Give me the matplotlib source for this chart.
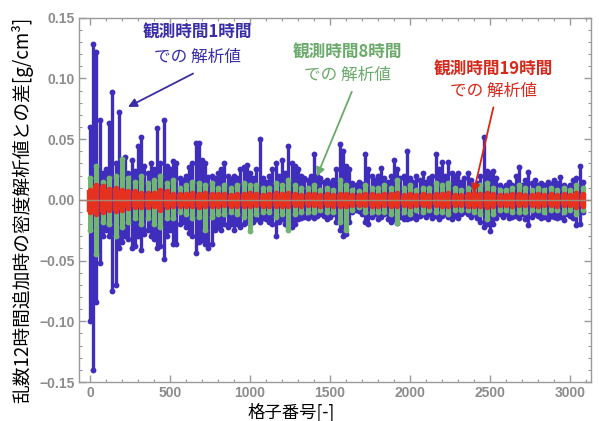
import numpy as np
import matplotlib
matplotlib.use("Agg")
import matplotlib.pyplot as plt
from matplotlib.ticker import MultipleLocator, FixedLocator

plt.rcParams['font.family'] = ['Noto Sans CJK JP', 'DejaVu Sans']

# ---- data (envelopes) ----
blue_step = 20
blue_up = [
    0.060, 0.128, 0.122, 0.066, 0.022, 0.025, 0.063, 0.089, 0.030, 0.072,   # 0-180
    0.030, 0.035, 0.022, 0.033, 0.024, 0.044, 0.052, 0.028, 0.022, 0.030,   # 200-380
    0.025, 0.059, 0.030, 0.066, 0.028, 0.025, 0.032, 0.030, 0.018, 0.016,   # 400-580
    0.020, 0.027, 0.030, 0.047, 0.047, 0.033, 0.030, 0.019, 0.020, 0.018,   # 600-780
    0.022, 0.025, 0.030, 0.020, 0.017, 0.020, 0.018, 0.025, 0.027, 0.029,   # 800-980
    0.022, 0.018, 0.025, 0.050, 0.018, 0.015, 0.020, 0.025, 0.030, 0.020,   # 1000-1180
    0.033, 0.022, 0.044, 0.030, 0.028, 0.025, 0.020, 0.018, 0.016, 0.020,   # 1200-1380
    0.038, 0.020, 0.018, 0.015, 0.016, 0.014, 0.016, 0.025, 0.046, 0.040,   # 1400-1580
    0.028, 0.025, 0.014, 0.012, 0.015, 0.013, 0.038, 0.025, 0.020, 0.016,   # 1600-1780
    0.020, 0.026, 0.018, 0.015, 0.020, 0.033, 0.025, 0.018, 0.020, 0.040,   # 1800-1980
    0.018, 0.015, 0.020, 0.016, 0.022, 0.015, 0.018, 0.020, 0.038, 0.025,   # 2000-2180
    0.031, 0.020, 0.031, 0.022, 0.020, 0.022, 0.015, 0.018, 0.022, 0.016,   # 2200-2380
    0.012, 0.014, 0.020, 0.052, 0.024, 0.022, 0.024, 0.018, 0.012, 0.010,   # 2400-2580
    0.012, 0.015, 0.012, 0.020, 0.027, 0.012, 0.016, 0.023, 0.014, 0.016,   # 2600-2780
    0.012, 0.014, 0.012, 0.015, 0.013, 0.016, 0.014, 0.019, 0.012, 0.010,   # 2800-2980
    0.012, 0.016, 0.018, 0.028, 0.015,                                      # 3000-3080
]
blue_down = [
    -0.100, -0.140, -0.084, -0.052, -0.030, -0.025, -0.030, -0.075, -0.070, -0.040,
    -0.035, -0.030, -0.032, -0.040, -0.038, -0.030, -0.041, -0.028, -0.025, -0.030,
    -0.032, -0.040, -0.038, -0.049, -0.030, -0.025, -0.036, -0.036, -0.020, -0.018,
    -0.022, -0.027, -0.030, -0.044, -0.035, -0.033, -0.036, -0.040, -0.036, -0.025,
    -0.022, -0.025, -0.020, -0.022, -0.020, -0.025, -0.020, -0.022, -0.020, -0.018,
    -0.020, -0.018, -0.016, -0.018, -0.015, -0.016, -0.018, -0.020, -0.030, -0.018,
    -0.016, -0.020, -0.022, -0.022, -0.020, -0.016, -0.015, -0.014, -0.015, -0.013,
    -0.015, -0.013, -0.012, -0.013, -0.016, -0.014, -0.012, -0.018, -0.025, -0.030,
    -0.028, -0.018, -0.010, -0.008, -0.009, -0.012, -0.018, -0.020, -0.014, -0.012,
    -0.016, -0.014, -0.012, -0.016, -0.018, -0.016, -0.019, -0.014, -0.016, -0.016,
    -0.015, -0.014, -0.016, -0.013, -0.012, -0.014, -0.012, -0.015, -0.013, -0.016,
    -0.013, -0.012, -0.014, -0.016, -0.013, -0.015, -0.012, -0.010, -0.012, -0.014,
    -0.012, -0.015, -0.018, -0.022, -0.020, -0.026, -0.020, -0.015, -0.012, -0.014,
    -0.012, -0.015, -0.014, -0.013, -0.015, -0.012, -0.016, -0.021, -0.014, -0.012,
    -0.013, -0.015, -0.014, -0.016, -0.013, -0.014, -0.015, -0.014, -0.017, -0.012,
    -0.013, -0.015, -0.021, -0.020, -0.010,
]

gr_step = 40
green_up = [
    0.018, 0.028, 0.015, 0.018, 0.020, 0.034, 0.018, 0.015, 0.020, 0.014,   # 0-360
    0.016, 0.020, 0.014, 0.016, 0.010, 0.012, 0.015, 0.014, 0.012, 0.014,   # 400-760
    0.010, 0.012, 0.010, 0.012, 0.014, 0.012, 0.012, 0.010, 0.010, 0.014,   # 800-1160
    0.012, 0.016, 0.012, 0.010, 0.010, 0.012, 0.008, 0.010, 0.008, 0.016,   # 1200-1560
    0.012, 0.008, 0.007, 0.012, 0.010, 0.010, 0.012, 0.010, 0.016, 0.010,   # 1600-1960
    0.012, 0.008, 0.010, 0.010, 0.014, 0.012, 0.014, 0.010, 0.008, 0.010,   # 2000-2360
    0.010, 0.012, 0.014, 0.010, 0.008, 0.008, 0.010, 0.012, 0.010, 0.008,   # 2400-2760
    0.010, 0.008, 0.010, 0.008, 0.010, 0.008, 0.012, 0.010,                 # 2800-3080
]
green_down = [
    -0.025, -0.045, -0.018, -0.020, -0.030, -0.022, -0.018, -0.015, -0.020, -0.015,
    -0.020, -0.022, -0.015, -0.015, -0.010, -0.012, -0.015, -0.014, -0.025, -0.014,
    -0.012, -0.012, -0.010, -0.012, -0.014, -0.026, -0.012, -0.010, -0.010, -0.014,
    -0.012, -0.025, -0.012, -0.010, -0.010, -0.010, -0.008, -0.010, -0.010, -0.018,
    -0.025, -0.008, -0.006, -0.010, -0.010, -0.010, -0.010, -0.012, -0.019, -0.010,
    -0.012, -0.008, -0.010, -0.008, -0.010, -0.010, -0.012, -0.008, -0.008, -0.008,
    -0.010, -0.012, -0.016, -0.012, -0.008, -0.008, -0.010, -0.010, -0.010, -0.008,
    -0.008, -0.010, -0.008, -0.008, -0.010, -0.008, -0.012, -0.008,
]

red_up = [
    0.008, 0.012, 0.011, 0.009, 0.010, 0.008, 0.007, 0.007, 0.006, 0.006,
    0.006, 0.008, 0.007, 0.005, 0.005, 0.005, 0.006, 0.005, 0.006, 0.005,
    0.005, 0.005, 0.004, 0.005, 0.005, 0.006, 0.005, 0.004, 0.005, 0.006,
    0.005, 0.006, 0.005, 0.004, 0.005, 0.005, 0.004, 0.005, 0.004, 0.005,
    0.005, 0.004, 0.004, 0.005, 0.005, 0.004, 0.005, 0.005, 0.006, 0.004,
    0.005, 0.004, 0.005, 0.004, 0.005, 0.005, 0.006, 0.004, 0.004, 0.005,
    0.006, 0.005, 0.006, 0.005, 0.004, 0.004, 0.005, 0.005, 0.004, 0.004,
    0.005, 0.004, 0.005, 0.004, 0.005, 0.004, 0.006, 0.005,
]
red_down = [
    -0.010, -0.012, -0.010, -0.008, -0.009, -0.008, -0.007, -0.006, -0.006, -0.006,
    -0.005, -0.008, -0.006, -0.005, -0.005, -0.005, -0.005, -0.006, -0.005, -0.005,
    -0.005, -0.004, -0.005, -0.005, -0.005, -0.005, -0.004, -0.005, -0.005, -0.005,
    -0.005, -0.005, -0.004, -0.005, -0.004, -0.004, -0.005, -0.004, -0.005, -0.005,
    -0.005, -0.004, -0.004, -0.004, -0.005, -0.005, -0.004, -0.005, -0.005, -0.004,
    -0.005, -0.004, -0.004, -0.005, -0.004, -0.005, -0.005, -0.004, -0.004, -0.005,
    -0.005, -0.005, -0.006, -0.005, -0.004, -0.004, -0.005, -0.004, -0.004, -0.004,
    -0.005, -0.004, -0.004, -0.005, -0.004, -0.004, -0.006, -0.005,
]

x_ticks = [0, 500, 1000, 1500, 2000, 2500, 3000]
y_ticks = [-0.15, -0.10, -0.05, 0.00, 0.05, 0.10, 0.15]

label_1h = ("観測時間1時間", "での 解析値")
label_8h = ("観測時間8時間", "での 解析値")
label_19h = ("観測時間19時間", "での 解析値")
xlabel = "格子番号[-]"
ylabel = "乱数12時間追加時の密度解析値との差[g/cm³]"

# ---- figure ----
BLUE = '#3f2dbb'
GREEN = '#72b572'
RED = '#e5321f'

fig = plt.figure(figsize=(5.99, 4.21), dpi=100)
ax = fig.add_axes([79 / 599, 1 - 382 / 421, 512 / 599, (382 - 17.7) / 421])

def draw_series(step, up, down, color, lw, ms, z):
    up = np.asarray(up)
    down = np.asarray(down)
    x = np.arange(len(up)) * step
    assert len(up) == len(down)
    ax.vlines(x, down, up, colors=color, linewidth=lw, zorder=z)
    ax.plot(x, up, 'o', color=color, ms=ms, mec='none', zorder=z)
    ax.plot(x, down, 'o', color=color, ms=ms, mec='none', zorder=z)

assert len(blue_up) == 155 and len(green_up) == 78 and len(red_up) == 78
draw_series(blue_step, blue_up, blue_down, BLUE, 2.4, 4.2, 2)
draw_series(gr_step, green_up, green_down, GREEN, 3.6, 4.2, 3)
draw_series(gr_step, red_up, red_down, RED, 4.6, 4.0, 4)
ax.axhline(0, color='#a08a78', lw=1.0, zorder=5)

ax.set_xlim(-69, 3131)
ax.set_ylim(-0.15, 0.15)

gray = '#9a9a9a'
for s in ax.spines.values():
    s.set_color(gray)
    s.set_linewidth(1.0)
ax.xaxis.set_major_locator(FixedLocator(x_ticks))
ax.xaxis.set_minor_locator(MultipleLocator(100))
ax.yaxis.set_major_locator(FixedLocator(y_ticks))
ax.yaxis.set_minor_locator(MultipleLocator(0.01))
ax.tick_params(which='both', direction='in', top=True, right=True, color=gray,
               labelcolor='#8c8c8c')
ax.tick_params(which='major', length=5, width=1)
ax.tick_params(which='minor', length=2.5, width=0.8)
ax.set_xticklabels([str(v) for v in x_ticks], family='Liberation Sans',
                   fontsize=10, fontweight='bold')
ax.set_yticklabels([f"{v:.2f}".replace('-', '\u2212') for v in y_ticks],
                   family='Liberation Sans', fontsize=10, fontweight='bold')
ax.tick_params(axis='x', pad=3)
ax.tick_params(axis='y', pad=3)

fig.text(291 / 599, 1 - 412 / 421, xlabel, ha='center', va='center',
         fontsize=12.5, color='black')
fig.text(22 / 599, 1 - 210 / 421, ylabel, ha='center', va='center',
         rotation=90, fontsize=13.5, color='black')

def label(lines, cx, y1, y2, color):
    fig.text(cx / 599, 1 - y1 / 421, lines[0], ha='center', va='center',
             fontsize=12, fontweight='bold', color=color)
    fig.text(cx / 599, 1 - y2 / 421, lines[1], ha='center', va='center',
             fontsize=12, color=color)

label(label_1h, 197, 33, 57, '#3a2ea8')
label(label_8h, 347, 53, 75, '#6aaa6a')
label(label_19h, 493, 70, 91, '#d42a1c')

def arrow(x0, y0, x1, y1, color):
    ax.annotate('', xy=(x1, y1), xytext=(x0, y0),
                arrowprops=dict(arrowstyle='-|>', color=color, lw=1.3,
                                mutation_scale=13, shrinkA=0, shrinkB=0),
                zorder=6)

arrow(644, 0.104, 237, 0.0765, '#3a2ea8')
arrow(1636, 0.089, 1417, 0.0192, '#6aaa6a')
arrow(2521, 0.0762, 2396, 0.0055, '#d42a1c')

fig.savefig('out.png', dpi=100)
